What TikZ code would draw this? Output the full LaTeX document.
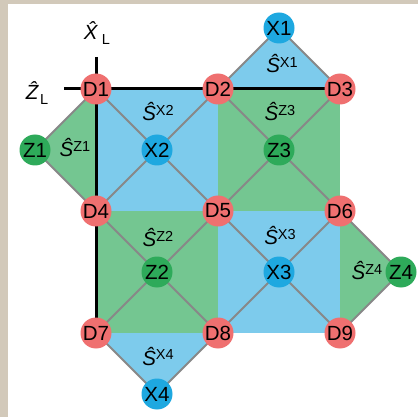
\documentclass[tikz,border=0pt]{standalone}
\usepackage{fontspec}
\setmainfont{Liberation Sans}
\definecolor{beige}{RGB}{210,201,186}
\definecolor{rednode}{RGB}{239,112,112}
\definecolor{bluenode}{RGB}{30,168,224}
\definecolor{greennode}{RGB}{46,170,90}
\definecolor{bluefill}{RGB}{125,203,236}
\definecolor{greenfill}{RGB}{116,198,145}
\definecolor{edgegray}{RGB}{136,136,136}
\newcommand{\stab}[1]{\textit{Ŝ}\raisebox{0.55ex}{\fontsize{14.5}{14.5}\selectfont #1}}
\newcommand{\logop}[1]{\textit{\^{#1}}\kern1pt\raisebox{-0.45ex}{\fontsize{14.5}{14.5}\selectfont L}}
\tikzset{
  qubit/.style={circle, inner sep=0pt, minimum size=31pt, font=\fontsize{20.5}{20.5}\selectfont, text=black},
  dnode/.style={qubit, fill=rednode},
  xnode/.style={qubit, fill=bluenode},
  znode/.style={qubit, fill=greennode},
  gline/.style={draw=edgegray, line width=1.8pt},
  bline/.style={draw=black, line width=3pt},
  lab/.style={font=\fontsize{20.5}{20.5}\selectfont, inner sep=0pt}
}
\begin{document}
\begin{tikzpicture}[x=1pt,y=-1pt]
\useasboundingbox (0,0) rectangle (418,417);
\fill[white] (0,0) rectangle (418,417);
\fill[beige] (0,0) rectangle (418,4.5);
\fill[beige] (0,0) rectangle (8,417);
% coordinates
\coordinate (d1) at (96,89);
\coordinate (d2) at (218,89);
\coordinate (d3) at (340,89);
\coordinate (d4) at (96,211);
\coordinate (d5) at (218,211);
\coordinate (d6) at (340,211);
\coordinate (d7) at (96,333);
\coordinate (d8) at (218,333);
\coordinate (d9) at (340,333);
\coordinate (x1) at (279,28);
\coordinate (x2) at (157,150);
\coordinate (x3) at (279,272);
\coordinate (x4) at (157,394);
\coordinate (z1) at (35,150);
\coordinate (z2) at (157,272);
\coordinate (z3) at (279,150);
\coordinate (z4) at (401,272);
\coordinate (xl) at (96,57);
\coordinate (zl) at (64,89);
% plaquettes
\fill[bluefill] (d1) rectangle (d5);
\fill[greenfill] (d2) rectangle (d6);
\fill[greenfill] (d4) rectangle (d8);
\fill[bluefill] (d5) rectangle (d9);
\fill[bluefill] (d2) -- (x1) -- (d3) -- cycle;
\fill[greenfill] (d1) -- (z1) -- (d4) -- cycle;
\fill[greenfill] (d6) -- (z4) -- (d9) -- cycle;
\fill[bluefill] (d7) -- (x4) -- (d8) -- cycle;
% gray edges
\path[gline] (d1) -- (d5) (d2) -- (d4);
\path[gline] (d2) -- (d6) (d3) -- (d5);
\path[gline] (d4) -- (d8) (d5) -- (d7);
\path[gline] (d5) -- (d9) (d6) -- (d8);
\path[gline] (d2) -- (x1) -- (d3);
\path[gline] (d1) -- (z1) -- (d4);
\path[gline] (d6) -- (z4) -- (d9);
\path[gline] (d7) -- (x4) -- (d8);
% logical operators
\path[bline] (zl) -- (d3);
\path[bline] (xl) -- (d7);
% stabilizer labels
\node[lab] at (282,64) {\stab{X1}};
\node[lab] at (158,112) {\stab{X2}};
\node[lab] at (280,236) {\stab{X3}};
\node[lab] at (158,356) {\stab{X4}};
\node[lab] at (75,148) {\stab{Z1}};
\node[lab] at (158,238) {\stab{Z2}};
\node[lab] at (280,112) {\stab{Z3}};
\node[lab] at (367,271) {\stab{Z4}};
\node[lab] at (97,33) {\logop{X}};
\node[lab] at (37,93) {\logop{Z}};
% qubits
\node[dnode] (D1) at (d1) {D1};
\node[dnode] (D2) at (d2) {D2};
\node[dnode] (D3) at (d3) {D3};
\node[dnode] (D4) at (d4) {D4};
\node[dnode] (D5) at (d5) {D5};
\node[dnode] (D6) at (d6) {D6};
\node[dnode] (D7) at (d7) {D7};
\node[dnode] (D8) at (d8) {D8};
\node[dnode] (D9) at (d9) {D9};
\node[xnode] (X1) at (x1) {X1};
\node[xnode] (X2) at (x2) {X2};
\node[xnode] (X3) at (x3) {X3};
\node[xnode] (X4) at (x4) {X4};
\node[znode] (Z1) at (z1) {Z1};
\node[znode] (Z2) at (z2) {Z2};
\node[znode] (Z3) at (z3) {Z3};
\node[znode] (Z4) at (z4) {Z4};
\end{tikzpicture}
\end{document}
